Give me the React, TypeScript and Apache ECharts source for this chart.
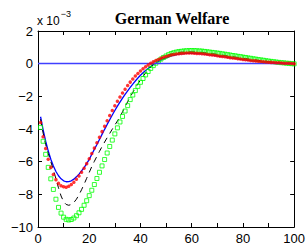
import React, { useEffect, useRef } from "react";
import * as echarts from "echarts";

const xs: number[] = Array.from({ length: 100 }, (_, i) => i + 1);

const blue: number[] = [
  -3.25, -4.05, -4.75, -5.35, -5.85, -6.27, -6.6, -6.86, -7.05, -7.17,
  -7.23, -7.22, -7.17, -7.07, -6.93, -6.76, -6.57, -6.36, -6.12, -5.86,
  -5.55, -5.25, -4.95, -4.64, -4.33, -4.02, -3.72, -3.43, -3.14, -2.87,
  -2.6, -2.35, -2.11, -1.88, -1.66, -1.45, -1.25, -1.06, -0.88, -0.71,
  -0.56, -0.42, -0.29, -0.17, -0.06, 0.04, 0.13, 0.21, 0.29, 0.36,
  0.42, 0.47, 0.51, 0.55, 0.58, 0.6, 0.62, 0.63, 0.63, 0.63,
  0.63, 0.62, 0.61, 0.6, 0.58, 0.56, 0.54, 0.52, 0.5, 0.48,
  0.45, 0.43, 0.41, 0.38, 0.36, 0.34, 0.32, 0.29, 0.27, 0.25,
  0.23, 0.21, 0.19, 0.17, 0.16, 0.14, 0.12, 0.11, 0.09, 0.08,
  0.07, 0.06, 0.05, 0.04, 0.03, 0.02, 0.01, 0.01, 0.0, 0.0,
];

const red: number[] = [
  -3.6, -4.47, -5.2, -5.85, -6.35, -6.78, -7.1, -7.33, -7.47, -7.54,
  -7.56, -7.5, -7.4, -7.26, -7.08, -6.88, -6.65, -6.4, -6.12, -5.82,
  -5.5, -5.17, -4.84, -4.5, -4.16, -3.83, -3.5, -3.18, -2.87, -2.58,
  -2.3, -2.04, -1.79, -1.56, -1.34, -1.13, -0.94, -0.76, -0.6, -0.45,
  -0.31, -0.19, -0.08, 0.02, 0.11, 0.19, 0.26, 0.33, 0.39, 0.44,
  0.49, 0.53, 0.56, 0.59, 0.61, 0.63, 0.64, 0.65, 0.65, 0.65,
  0.64, 0.63, 0.62, 0.61, 0.59, 0.57, 0.55, 0.53, 0.51, 0.49,
  0.46, 0.44, 0.42, 0.39, 0.37, 0.35, 0.33, 0.3, 0.28, 0.26,
  0.24, 0.22, 0.2, 0.18, 0.17, 0.15, 0.13, 0.12, 0.1, 0.09,
  0.08, 0.07, 0.06, 0.05, 0.04, 0.03, 0.02, 0.02, 0.01, 0.0,
];

const black: number[] = [
  -3.4, -4.25, -4.95, -5.5, -6.0, -6.5, -7.05, -7.6, -8.1, -8.45,
  -8.62, -8.67, -8.62, -8.5, -8.3, -8.03, -7.72, -7.38, -7.02, -6.66,
  -6.3, -5.98, -5.67, -5.37, -5.08, -4.8, -4.53, -4.27, -4.01, -3.76,
  -3.51, -3.25, -2.95, -2.63, -2.33, -2.04, -1.76, -1.49, -1.24, -1.0,
  -0.78, -0.57, -0.38, -0.2, -0.04, 0.1, 0.21, 0.31, 0.4, 0.47,
  0.53, 0.58, 0.62, 0.65, 0.68, 0.7, 0.71, 0.72, 0.72, 0.72,
  0.72, 0.71, 0.7, 0.69, 0.67, 0.65, 0.63, 0.61, 0.59, 0.57,
  0.55, 0.52, 0.5, 0.47, 0.45, 0.43, 0.4, 0.38, 0.36, 0.33,
  0.31, 0.29, 0.27, 0.24, 0.22, 0.2, 0.18, 0.16, 0.14, 0.12,
  0.11, 0.09, 0.08, 0.06, 0.05, 0.04, 0.03, 0.02, 0.01, 0.0,
];

const green: number[] = [
  -3.9, -4.75, -5.55, -6.35, -7.05, -7.7, -8.3, -8.8, -9.15, -9.4,
  -9.53, -9.57, -9.54, -9.45, -9.31, -9.13, -8.92, -8.67, -8.39, -8.08,
  -7.75, -7.4, -7.03, -6.65, -6.26, -5.87, -5.47, -5.07, -4.68, -4.3,
  -3.93, -3.57, -3.23, -2.9, -2.57, -2.2, -1.92, -1.65, -1.39, -1.14,
  -0.91, -0.69, -0.48, -0.29, -0.12, 0.03, 0.16, 0.28, 0.38, 0.47,
  0.55, 0.62, 0.67, 0.71, 0.74, 0.76, 0.78, 0.79, 0.8, 0.8,
  0.8, 0.79, 0.78, 0.77, 0.75, 0.73, 0.71, 0.69, 0.67, 0.65,
  0.63, 0.6, 0.58, 0.55, 0.53, 0.5, 0.48, 0.45, 0.43, 0.4,
  0.38, 0.35, 0.33, 0.3, 0.28, 0.25, 0.23, 0.21, 0.18, 0.16,
  0.14, 0.12, 0.1, 0.08, 0.06, 0.05, 0.03, 0.02, 0.0, -0.01,
];

const xTicks: number[] = [0, 20, 40, 60, 80, 100];
const yTicks: number[] = [-10, -8, -6, -4, -2, 0, 2];
const titleText = "German Welfare";

const pairs = (ys: number[]) => xs.map((x, i) => [x, ys[i]]);
const minus = (v: number) => String(v).replace("-", "\u2212");

export default function App() {
  const ref = useRef<HTMLDivElement>(null);
  useEffect(() => {
    if (!ref.current) return;
    const chart = echarts.init(ref.current, null, { renderer: "svg" });
    const labelFont = { fontFamily: "Liberation Sans", fontSize: 13, color: "#000" };
    const tick = { show: true, inside: true, length: 4, lineStyle: { color: "#000", width: 1 } };
    const line = { show: true, onZero: false, lineStyle: { color: "#000", width: 1 } };
    chart.setOption({
      animation: false,
      backgroundColor: "#fff",
      grid: { left: 38, right: 12, top: 31, bottom: 19, containLabel: false },
      title: {
        text: titleText,
        left: 167,
        textAlign: "center",
        top: 5,
        textStyle: { fontFamily: "Liberation Serif", fontWeight: "bold", fontSize: 16, color: "#000" },
      },
      graphic: [
        {
          type: "text",
          left: 37,
          top: 9,
          style: {
            text: "{a|x 10}{b|\u22123}",
            rich: {
              a: { fontFamily: "Liberation Sans", fontSize: 12, fill: "#000", padding: [6, 0, 0, 0] },
              b: { fontFamily: "Liberation Sans", fontSize: 9, fill: "#000", verticalAlign: "top", padding: [0, 0, 6, 1] },
            },
          },
        },
      ],
      xAxis: [
        {
          type: "value",
          min: 0,
          max: 100,
          interval: 10,
          position: "bottom",
          axisLine: line,
          axisTick: tick,
          splitLine: { show: false },
          axisLabel: {
            ...labelFont,
            margin: 5,
            formatter: (v: number) => (xTicks.includes(v) ? String(v) : ""),
          },
        },
        {
          type: "value",
          min: 0,
          max: 100,
          interval: 10,
          position: "top",
          axisLine: line,
          axisTick: tick,
          splitLine: { show: false },
          axisLabel: { show: false },
        },
      ],
      yAxis: [
        {
          type: "value",
          min: -10,
          max: 2,
          interval: 2,
          position: "left",
          axisLine: line,
          axisTick: tick,
          splitLine: { show: false },
          axisLabel: {
            ...labelFont,
            margin: 5,
            formatter: (v: number) => (yTicks.includes(v) ? minus(v) : ""),
          },
        },
        {
          type: "value",
          min: -10,
          max: 2,
          interval: 2,
          position: "right",
          axisLine: line,
          axisTick: tick,
          splitLine: { show: false },
          axisLabel: { show: false },
        },
      ],
      series: [
        {
          type: "line",
          data: pairs(blue),
          showSymbol: false,
          lineStyle: { color: "#0000ff", width: 1.3 },
          z: 2,
          markLine: {
            silent: true,
            symbol: "none",
            label: { show: false },
            lineStyle: { color: "#4040ff", width: 1.3, type: "solid" },
            data: [{ yAxis: 0 }],
          },
        },
        {
          type: "line",
          data: pairs(black),
          showSymbol: false,
          lineStyle: { color: "#000", width: 1, type: [6, 5] },
          z: 3,
        },
        {
          type: "scatter",
          data: pairs(green),
          symbol: "rect",
          symbolSize: 4,
          itemStyle: { color: "rgba(0,0,0,0)", borderColor: "#00ff00", borderWidth: 1 },
          z: 4,
        },
        {
          type: "scatter",
          data: pairs(red),
          symbol: "circle",
          symbolSize: 3.5,
          itemStyle: { color: "#ff0000" },
          z: 5,
        },
      ],
    });
    return () => chart.dispose();
  }, []);
  return <div ref={ref} style={{ width: 308, height: 246, position: "absolute", left: 0, top: 0 }} />;
}
